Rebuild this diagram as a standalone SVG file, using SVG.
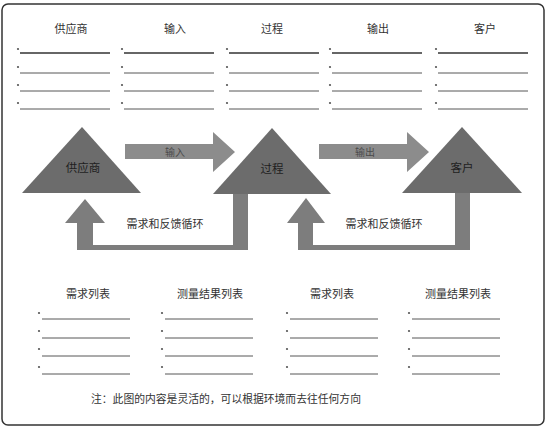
<svg xmlns="http://www.w3.org/2000/svg" width="549" height="431" viewBox="0 0 549 431">
<style>
text{font-family:"Noto Sans CJK SC","Noto Sans",sans-serif;font-size:11px;fill:#333;text-anchor:middle}
.in{fill:#1e1e1e;font-size:11.5px}
.ar{fill:#4a4a4a;font-size:10px}
.ln{stroke:#444;stroke-width:0.9}
.ln1{stroke:#333;stroke-width:1.6}
.bl{fill:#555}
.tri{fill:#6c6c6c}
.arw{fill:#8c8c8c}
.lp{fill:#7d7d7d}
</style>
<defs>
<g id="list4">
<circle cx="0" cy="0" r="1.1" class="bl"/>
<line x1="2" y1="4" x2="92" y2="4" class="ln1"/>
<circle cx="0" cy="18" r="1.1" class="bl"/>
<line x1="2" y1="24" x2="92" y2="24" class="ln"/>
<circle cx="0" cy="36" r="1.1" class="bl"/>
<line x1="2" y1="42" x2="92" y2="42" class="ln"/>
<circle cx="0" cy="54" r="1.1" class="bl"/>
<line x1="2" y1="60" x2="92" y2="60" class="ln"/>
</g>
<g id="list4b">
<circle cx="0" cy="0" r="1.1" class="bl"/>
<line x1="3" y1="6" x2="91" y2="6" class="ln"/>
<circle cx="0" cy="18" r="1.1" class="bl"/>
<line x1="3" y1="25" x2="91" y2="25" class="ln"/>
<circle cx="0" cy="36" r="1.1" class="bl"/>
<line x1="3" y1="43" x2="91" y2="43" class="ln"/>
<circle cx="0" cy="54" r="1.1" class="bl"/>
<line x1="3" y1="61" x2="91" y2="61" class="ln"/>
</g>
</defs>
<rect x="0" y="0" width="549" height="431" fill="#fff"/>
<rect x="2" y="4" width="542" height="421" rx="6" fill="none" stroke="#333" stroke-width="1.5"/>

<g id="header-lists">
<g id="col-supplier"><text x="71" y="33">供应商</text><use href="#list4" x="18" y="49"/></g>
<g id="col-input"><text x="175" y="33">输入</text><use href="#list4" x="122" y="49"/></g>
<g id="col-process"><text x="272" y="33">过程</text><use href="#list4" x="227" y="49"/></g>
<g id="col-output"><text x="378" y="33">输出</text><use href="#list4" x="330" y="49"/></g>
<g id="col-customer"><text x="485" y="33">客户</text><use href="#list4" x="436" y="49"/></g>
</g>

<g id="connectors">
<path class="arw" d="M125,144 H213 V132 L235,152 L213,172 V159 H125 Z"/>
<text class="ar" x="175" y="156">输入</text>
<path class="arw" d="M319,144 H407 V132 L429,152 L407,172 V159 H319 Z"/>
<text class="ar" x="365" y="156">输出</text>
<path class="lp" d="M233,193 H248 V250 H77 V223 H65 L85,199 L105,223 H93 V245 H233 Z"/>
<path class="lp" d="M455,193 H470 V250 H298 V223 H287 L306,198 L325,223 H313 V245 H455 Z"/>
<text x="165" y="228">需求和反馈循环</text>
<text x="384" y="228">需求和反馈循环</text>
</g>

<g id="node-supplier"><polygon class="tri" points="82,127 141,193 22,193"/><text class="in" x="83" y="172">供应商</text></g>
<g id="node-process"><polygon class="tri" points="272,128 331,194 213,194"/><text class="in" x="272" y="173">过程</text></g>
<g id="node-customer"><polygon class="tri" points="462,127 522,193 402,193"/><text class="in" x="462" y="172">客户</text></g>

<g id="bottom-lists">
<g id="req-list-1"><text x="88" y="298">需求列表</text><use href="#list4b" x="39" y="313"/></g>
<g id="meas-list-1"><text x="210" y="298">测量结果列表</text><use href="#list4b" x="162" y="313"/></g>
<g id="req-list-2"><text x="332" y="298">需求列表</text><use href="#list4b" x="287" y="313"/></g>
<g id="meas-list-2"><text x="458" y="298">测量结果列表</text><use href="#list4b" x="409" y="313"/></g>
</g>

<text id="note" x="226" y="403" style="font-size:10.8px">注：此图的内容是灵活的，可以根据环境而去往任何方向</text>
</svg>
